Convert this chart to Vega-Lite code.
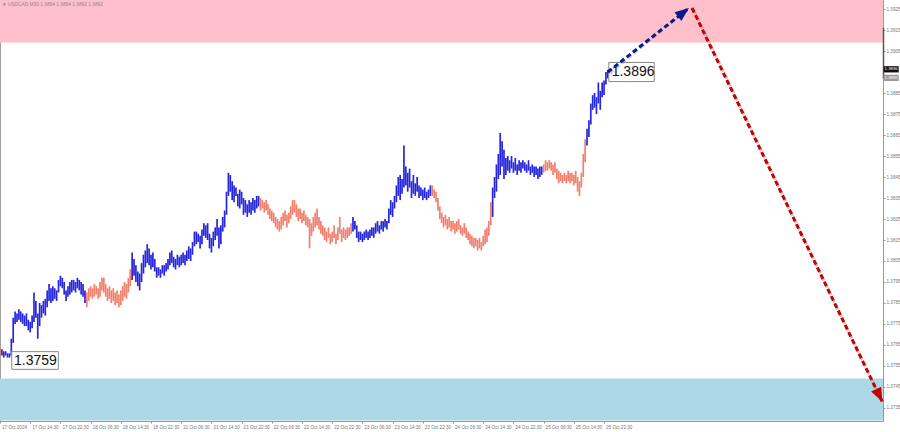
{
 "$schema": "https://vega.github.io/schema/vega-lite/v6.json",
 "width": 883, "height": 421, "padding": {"left": 0, "top": 0, "right": 17, "bottom": 11}, "autosize": {"type": "none"},
 "background": "white",
 "config": {"view": {"stroke": "#a0a0a0", "strokeWidth": 1}},
 "encoding": {
  "x": {"field": "i", "type": "quantitative", "title": null, "scale": {"domain": [0, 467.8], "nice": false, "zero": false},
    "axis": {"orient": "bottom", "title": null, "grid": false, "values": [0,16,32,48,64,80,96,112,128,144,160,176,192,208,224,240,256,272,288,304,320],
      "labelExpr": "['17 Oct 2024','17 Oct 14:30','17 Oct 22:30','18 Oct 06:30','18 Oct 14:30','18 Oct 22:30','21 Oct 06:30','21 Oct 14:30','21 Oct 22:30','22 Oct 06:30','22 Oct 14:30','22 Oct 22:30','23 Oct 06:30','23 Oct 14:30','23 Oct 22:30','24 Oct 06:30','24 Oct 14:30','24 Oct 22:30','25 Oct 06:30','25 Oct 14:30','25 Oct 22:30'][round(datum.value/16)]",
      "labelAlign": "left", "labelBaseline": "top", "labelFont": "Liberation Sans", "labelFontSize": 4.6, "labelColor": "#777", "labelPadding": 1, "labelOffset": 1.5, "labelFlush": false, "labelOverlap": false, "tickSize": 2, "tickColor": "#999", "domainColor": "#999"}},
  "y": {"field": "v", "type": "quantitative", "title": null, "scale": {"domain": [1.37288, 1.39293], "nice": false, "zero": false},
    "axis": {"orient": "right", "title": null, "grid": false, "values": [1.3735,1.3745,1.3755,1.3765,1.3775,1.3785,1.3795,1.3805,1.3815,1.3825,1.3835,1.3845,1.3855,1.3865,1.3875,1.3885,1.3905,1.3915,1.3925],
      "format": ".4f", "labelFont": "Liberation Sans", "labelFontSize": 4.6, "labelColor": "#777", "labelPadding": 1, "labelFlush": false, "labelOverlap": false, "labelBound": false, "tickSize": 2, "tickColor": "#999", "domainColor": "#999"}}
 },
 "layer": [
  {"data": {"values": [{"zone": "target", "i": 0, "i2": 467.8, "v": 1.3909, "v2": 1.3935}]},
   "mark": {"type": "rect", "color": "#ffc0cb", "clip": true},
   "encoding": {"x2": {"field": "i2"}, "y2": {"field": "v2"}}},
  {"data": {"values": [{"zone": "support", "i": 0, "i2": 467.8, "v": 1.3729, "v2": 1.3749}]},
   "mark": {"type": "rect", "color": "#add8e6", "clip": true},
   "encoding": {"x2": {"field": "i2"}, "y2": {"field": "v2"}}},
  {"data": {"values": [
{"i":0,"v":1.3760,"h":1.3763,"w":"dn"},{"i":1,"v":1.3760,"h":1.3763,"w":"up"},{"i":2,"v":1.3759,"h":1.3762,"w":"up"},{"i":3,"v":1.3760,"h":1.3762,"w":"up"},{"i":4,"v":1.3759,"h":1.3761,"w":"up"},{"i":5,"v":1.3759,"h":1.3761,"w":"up"},{"i":6,"v":1.3760,"h":1.3768,"w":"up"},{"i":7,"v":1.3766,"h":1.3778,"w":"up"},{"i":8,"v":1.3775,"h":1.3781,"w":"up"},{"i":9,"v":1.3776,"h":1.3780,"w":"up"},
{"i":10,"v":1.3777,"h":1.3782,"w":"up"},{"i":11,"v":1.3776,"h":1.3781,"w":"up"},{"i":12,"v":1.3775,"h":1.3780,"w":"up"},{"i":13,"v":1.3774,"h":1.3779,"w":"up"},{"i":14,"v":1.3774,"h":1.3780,"w":"up"},{"i":15,"v":1.3772,"h":1.3777,"w":"up"},{"i":16,"v":1.3771,"h":1.3776,"w":"up"},{"i":17,"v":1.3773,"h":1.3779,"w":"up"},{"i":18,"v":1.3776,"h":1.3790,"w":"up"},{"i":19,"v":1.3778,"h":1.3786,"w":"up"},
{"i":20,"v":1.3768,"h":1.3780,"w":"up"},{"i":21,"v":1.3774,"h":1.3785,"w":"up"},{"i":22,"v":1.3778,"h":1.3784,"w":"up"},{"i":23,"v":1.3780,"h":1.3786,"w":"up"},{"i":24,"v":1.3779,"h":1.3787,"w":"up"},{"i":25,"v":1.3783,"h":1.3791,"w":"up"},{"i":26,"v":1.3786,"h":1.3794,"w":"up"},{"i":27,"v":1.3785,"h":1.3792,"w":"up"},{"i":28,"v":1.3786,"h":1.3793,"w":"up"},{"i":29,"v":1.3787,"h":1.3792,"w":"up"},
{"i":30,"v":1.3786,"h":1.3791,"w":"up"},{"i":31,"v":1.3790,"h":1.3796,"w":"up"},{"i":32,"v":1.3793,"h":1.3798,"w":"up"},{"i":33,"v":1.3792,"h":1.3797,"w":"up"},{"i":34,"v":1.3789,"h":1.3795,"w":"up"},{"i":35,"v":1.3786,"h":1.3791,"w":"up"},{"i":36,"v":1.3788,"h":1.3793,"w":"up"},{"i":37,"v":1.3789,"h":1.3795,"w":"up"},{"i":38,"v":1.3790,"h":1.3796,"w":"up"},{"i":39,"v":1.3791,"h":1.3796,"w":"up"},
{"i":40,"v":1.3790,"h":1.3795,"w":"up"},{"i":41,"v":1.3792,"h":1.3797,"w":"up"},{"i":42,"v":1.3791,"h":1.3796,"w":"up"},{"i":43,"v":1.3789,"h":1.3795,"w":"up"},{"i":44,"v":1.3788,"h":1.3794,"w":"up"},{"i":45,"v":1.3785,"h":1.3791,"w":"up"},{"i":46,"v":1.3783,"h":1.3790,"w":"dn"},{"i":47,"v":1.3786,"h":1.3792,"w":"dn"},{"i":48,"v":1.3788,"h":1.3793,"w":"dn"},{"i":49,"v":1.3787,"h":1.3792,"w":"dn"},
{"i":50,"v":1.3788,"h":1.3794,"w":"dn"},{"i":51,"v":1.3789,"h":1.3793,"w":"dn"},{"i":52,"v":1.3787,"h":1.3792,"w":"dn"},{"i":53,"v":1.3788,"h":1.3795,"w":"dn"},{"i":54,"v":1.3791,"h":1.3797,"w":"dn"},{"i":55,"v":1.3790,"h":1.3797,"w":"dn"},{"i":56,"v":1.3788,"h":1.3794,"w":"dn"},{"i":57,"v":1.3786,"h":1.3792,"w":"dn"},{"i":58,"v":1.3787,"h":1.3793,"w":"dn"},{"i":59,"v":1.3785,"h":1.3791,"w":"dn"},
{"i":60,"v":1.3786,"h":1.3792,"w":"dn"},{"i":61,"v":1.3784,"h":1.3790,"w":"dn"},{"i":62,"v":1.3785,"h":1.3791,"w":"dn"},{"i":63,"v":1.3783,"h":1.3789,"w":"dn"},{"i":64,"v":1.3784,"h":1.3791,"w":"dn"},{"i":65,"v":1.3786,"h":1.3793,"w":"dn"},{"i":66,"v":1.3788,"h":1.3795,"w":"dn"},{"i":67,"v":1.3787,"h":1.3794,"w":"dn"},{"i":68,"v":1.3790,"h":1.3797,"w":"dn"},{"i":69,"v":1.3793,"h":1.3801,"w":"dn"},
{"i":70,"v":1.3796,"h":1.3809,"w":"up"},{"i":71,"v":1.3798,"h":1.3806,"w":"up"},{"i":72,"v":1.3795,"h":1.3803,"w":"up"},{"i":73,"v":1.3793,"h":1.3800,"w":"up"},{"i":74,"v":1.3791,"h":1.3799,"w":"up"},{"i":75,"v":1.3795,"h":1.3804,"w":"up"},{"i":76,"v":1.3799,"h":1.3808,"w":"up"},{"i":77,"v":1.3802,"h":1.3810,"w":"up"},{"i":78,"v":1.3804,"h":1.3813,"w":"up"},{"i":79,"v":1.3803,"h":1.3811,"w":"up"},
{"i":80,"v":1.3801,"h":1.3808,"w":"up"},{"i":81,"v":1.3802,"h":1.3809,"w":"up"},{"i":82,"v":1.3800,"h":1.3806,"w":"up"},{"i":83,"v":1.3797,"h":1.3802,"w":"up"},{"i":84,"v":1.3798,"h":1.3802,"w":"up"},{"i":85,"v":1.3797,"h":1.3801,"w":"up"},{"i":86,"v":1.3799,"h":1.3803,"w":"up"},{"i":87,"v":1.3798,"h":1.3803,"w":"up"},{"i":88,"v":1.3800,"h":1.3804,"w":"up"},{"i":89,"v":1.3801,"h":1.3806,"w":"up"},
{"i":90,"v":1.3803,"h":1.3809,"w":"up"},{"i":91,"v":1.3804,"h":1.3810,"w":"up"},{"i":92,"v":1.3802,"h":1.3807,"w":"up"},{"i":93,"v":1.3801,"h":1.3806,"w":"up"},{"i":94,"v":1.3803,"h":1.3808,"w":"up"},{"i":95,"v":1.3802,"h":1.3807,"w":"up"},{"i":96,"v":1.3803,"h":1.3808,"w":"up"},{"i":97,"v":1.3804,"h":1.3809,"w":"up"},{"i":98,"v":1.3803,"h":1.3808,"w":"up"},{"i":99,"v":1.3805,"h":1.3810,"w":"up"},
{"i":100,"v":1.3806,"h":1.3812,"w":"up"},{"i":101,"v":1.3805,"h":1.3811,"w":"up"},{"i":102,"v":1.3808,"h":1.3814,"w":"up"},{"i":103,"v":1.3812,"h":1.3819,"w":"up"},{"i":104,"v":1.3813,"h":1.3819,"w":"up"},{"i":105,"v":1.3814,"h":1.3818,"w":"up"},{"i":106,"v":1.3811,"h":1.3817,"w":"up"},{"i":107,"v":1.3813,"h":1.3820,"w":"up"},{"i":108,"v":1.3817,"h":1.3823,"w":"up"},{"i":109,"v":1.3816,"h":1.3822,"w":"up"},
{"i":110,"v":1.3815,"h":1.3823,"w":"up"},{"i":111,"v":1.3811,"h":1.3818,"w":"up"},{"i":112,"v":1.3809,"h":1.3816,"w":"up"},{"i":113,"v":1.3812,"h":1.3819,"w":"up"},{"i":114,"v":1.3815,"h":1.3821,"w":"up"},{"i":115,"v":1.3817,"h":1.3825,"w":"up"},{"i":116,"v":1.3811,"h":1.3821,"w":"up"},{"i":117,"v":1.3813,"h":1.3822,"w":"up"},{"i":118,"v":1.3819,"h":1.3826,"w":"up"},{"i":119,"v":1.3821,"h":1.3829,"w":"up"},
{"i":120,"v":1.3827,"h":1.3838,"w":"up"},{"i":121,"v":1.3836,"h":1.3847,"w":"up"},{"i":122,"v":1.3838,"h":1.3846,"w":"up"},{"i":123,"v":1.3834,"h":1.3843,"w":"up"},{"i":124,"v":1.3833,"h":1.3841,"w":"up"},{"i":125,"v":1.3836,"h":1.3840,"w":"up"},{"i":126,"v":1.3831,"h":1.3837,"w":"up"},{"i":127,"v":1.3830,"h":1.3839,"w":"up"},{"i":128,"v":1.3832,"h":1.3838,"w":"up"},{"i":129,"v":1.3827,"h":1.3835,"w":"up"},
{"i":130,"v":1.3828,"h":1.3834,"w":"up"},{"i":131,"v":1.3826,"h":1.3832,"w":"up"},{"i":132,"v":1.3828,"h":1.3834,"w":"up"},{"i":133,"v":1.3827,"h":1.3833,"w":"up"},{"i":134,"v":1.3829,"h":1.3835,"w":"up"},{"i":135,"v":1.3828,"h":1.3834,"w":"up"},{"i":136,"v":1.3830,"h":1.3836,"w":"up"},{"i":137,"v":1.3831,"h":1.3836,"w":"up"},{"i":138,"v":1.3829,"h":1.3835,"w":"dn"},{"i":139,"v":1.3830,"h":1.3834,"w":"dn"},
{"i":140,"v":1.3828,"h":1.3833,"w":"dn"},{"i":141,"v":1.3829,"h":1.3834,"w":"dn"},{"i":142,"v":1.3827,"h":1.3832,"w":"dn"},{"i":143,"v":1.3825,"h":1.3830,"w":"dn"},{"i":144,"v":1.3824,"h":1.3829,"w":"dn"},{"i":145,"v":1.3823,"h":1.3828,"w":"dn"},{"i":146,"v":1.3821,"h":1.3826,"w":"dn"},{"i":147,"v":1.3820,"h":1.3825,"w":"dn"},{"i":148,"v":1.3819,"h":1.3824,"w":"dn"},{"i":149,"v":1.3820,"h":1.3826,"w":"dn"},
{"i":150,"v":1.3822,"h":1.3828,"w":"dn"},{"i":151,"v":1.3824,"h":1.3829,"w":"dn"},{"i":152,"v":1.3821,"h":1.3827,"w":"dn"},{"i":153,"v":1.3823,"h":1.3828,"w":"dn"},{"i":154,"v":1.3825,"h":1.3831,"w":"dn"},{"i":155,"v":1.3827,"h":1.3834,"w":"dn"},{"i":156,"v":1.3828,"h":1.3834,"w":"dn"},{"i":157,"v":1.3826,"h":1.3832,"w":"dn"},{"i":158,"v":1.3824,"h":1.3830,"w":"dn"},{"i":159,"v":1.3825,"h":1.3830,"w":"dn"},
{"i":160,"v":1.3823,"h":1.3828,"w":"dn"},{"i":161,"v":1.3824,"h":1.3829,"w":"dn"},{"i":162,"v":1.3822,"h":1.3827,"w":"dn"},{"i":163,"v":1.3821,"h":1.3826,"w":"dn"},{"i":164,"v":1.3811,"h":1.3825,"w":"dn"},{"i":165,"v":1.3817,"h":1.3823,"w":"dn"},{"i":166,"v":1.3819,"h":1.3826,"w":"dn"},{"i":167,"v":1.3821,"h":1.3828,"w":"dn"},{"i":168,"v":1.3822,"h":1.3830,"w":"dn"},{"i":169,"v":1.3820,"h":1.3826,"w":"dn"},
{"i":170,"v":1.3818,"h":1.3824,"w":"dn"},{"i":171,"v":1.3817,"h":1.3822,"w":"dn"},{"i":172,"v":1.3815,"h":1.3821,"w":"dn"},{"i":173,"v":1.3814,"h":1.3819,"w":"dn"},{"i":174,"v":1.3816,"h":1.3821,"w":"dn"},{"i":175,"v":1.3813,"h":1.3818,"w":"dn"},{"i":176,"v":1.3814,"h":1.3819,"w":"dn"},{"i":177,"v":1.3816,"h":1.3822,"w":"dn"},{"i":178,"v":1.3813,"h":1.3818,"w":"dn"},{"i":179,"v":1.3815,"h":1.3821,"w":"dn"},
{"i":180,"v":1.3818,"h":1.3826,"w":"dn"},{"i":181,"v":1.3814,"h":1.3820,"w":"dn"},{"i":182,"v":1.3816,"h":1.3821,"w":"dn"},{"i":183,"v":1.3815,"h":1.3820,"w":"dn"},{"i":184,"v":1.3816,"h":1.3821,"w":"dn"},{"i":185,"v":1.3817,"h":1.3821,"w":"dn"},{"i":186,"v":1.3818,"h":1.3823,"w":"dn"},{"i":187,"v":1.3819,"h":1.3826,"w":"up"},{"i":188,"v":1.3820,"h":1.3824,"w":"up"},{"i":189,"v":1.3816,"h":1.3822,"w":"up"},
{"i":190,"v":1.3814,"h":1.3819,"w":"up"},{"i":191,"v":1.3815,"h":1.3819,"w":"up"},{"i":192,"v":1.3814,"h":1.3818,"w":"up"},{"i":193,"v":1.3815,"h":1.3819,"w":"up"},{"i":194,"v":1.3816,"h":1.3820,"w":"up"},{"i":195,"v":1.3815,"h":1.3819,"w":"up"},{"i":196,"v":1.3816,"h":1.3820,"w":"up"},{"i":197,"v":1.3817,"h":1.3821,"w":"up"},{"i":198,"v":1.3816,"h":1.3821,"w":"up"},{"i":199,"v":1.3818,"h":1.3823,"w":"up"},
{"i":200,"v":1.3819,"h":1.3824,"w":"up"},{"i":201,"v":1.3818,"h":1.3822,"w":"up"},{"i":202,"v":1.3820,"h":1.3824,"w":"up"},{"i":203,"v":1.3819,"h":1.3824,"w":"up"},{"i":204,"v":1.3821,"h":1.3825,"w":"up"},{"i":205,"v":1.3820,"h":1.3824,"w":"up"},{"i":206,"v":1.3823,"h":1.3830,"w":"up"},{"i":207,"v":1.3827,"h":1.3834,"w":"up"},{"i":208,"v":1.3826,"h":1.3833,"w":"up"},{"i":209,"v":1.3830,"h":1.3836,"w":"up"},
{"i":210,"v":1.3833,"h":1.3841,"w":"up"},{"i":211,"v":1.3836,"h":1.3845,"w":"up"},{"i":212,"v":1.3834,"h":1.3846,"w":"up"},{"i":213,"v":1.3837,"h":1.3844,"w":"up"},{"i":214,"v":1.3840,"h":1.3860,"w":"up"},{"i":215,"v":1.3841,"h":1.3850,"w":"up"},{"i":216,"v":1.3838,"h":1.3847,"w":"up"},{"i":217,"v":1.3840,"h":1.3849,"w":"up"},{"i":218,"v":1.3835,"h":1.3843,"w":"up"},{"i":219,"v":1.3837,"h":1.3846,"w":"up"},
{"i":220,"v":1.3836,"h":1.3842,"w":"up"},{"i":221,"v":1.3838,"h":1.3845,"w":"up"},{"i":222,"v":1.3835,"h":1.3841,"w":"up"},{"i":223,"v":1.3836,"h":1.3840,"w":"up"},{"i":224,"v":1.3834,"h":1.3839,"w":"up"},{"i":225,"v":1.3835,"h":1.3840,"w":"up"},{"i":226,"v":1.3834,"h":1.3838,"w":"up"},{"i":227,"v":1.3835,"h":1.3839,"w":"up"},{"i":228,"v":1.3836,"h":1.3841,"w":"up"},{"i":229,"v":1.3836,"h":1.3841,"w":"dn"},
{"i":230,"v":1.3835,"h":1.3839,"w":"dn"},{"i":231,"v":1.3833,"h":1.3838,"w":"dn"},{"i":232,"v":1.3829,"h":1.3835,"w":"dn"},{"i":233,"v":1.3825,"h":1.3831,"w":"dn"},{"i":234,"v":1.3823,"h":1.3828,"w":"dn"},{"i":235,"v":1.3821,"h":1.3826,"w":"dn"},{"i":236,"v":1.3822,"h":1.3827,"w":"dn"},{"i":237,"v":1.3820,"h":1.3825,"w":"dn"},{"i":238,"v":1.3821,"h":1.3826,"w":"dn"},{"i":239,"v":1.3819,"h":1.3824,"w":"dn"},
{"i":240,"v":1.3820,"h":1.3824,"w":"dn"},{"i":241,"v":1.3818,"h":1.3823,"w":"dn"},{"i":242,"v":1.3819,"h":1.3824,"w":"dn"},{"i":243,"v":1.3820,"h":1.3825,"w":"dn"},{"i":244,"v":1.3818,"h":1.3822,"w":"dn"},{"i":245,"v":1.3817,"h":1.3821,"w":"dn"},{"i":246,"v":1.3818,"h":1.3823,"w":"dn"},{"i":247,"v":1.3816,"h":1.3821,"w":"dn"},{"i":248,"v":1.3815,"h":1.3819,"w":"dn"},{"i":249,"v":1.3813,"h":1.3818,"w":"dn"},
{"i":250,"v":1.3812,"h":1.3817,"w":"dn"},{"i":251,"v":1.3811,"h":1.3816,"w":"dn"},{"i":252,"v":1.3812,"h":1.3816,"w":"dn"},{"i":253,"v":1.3810,"h":1.3815,"w":"dn"},{"i":254,"v":1.3811,"h":1.3816,"w":"dn"},{"i":255,"v":1.3810,"h":1.3814,"w":"dn"},{"i":256,"v":1.3812,"h":1.3817,"w":"dn"},{"i":257,"v":1.3813,"h":1.3820,"w":"dn"},{"i":258,"v":1.3814,"h":1.3821,"w":"dn"},{"i":259,"v":1.3817,"h":1.3824,"w":"dn"},
{"i":260,"v":1.3822,"h":1.3833,"w":"dn"},{"i":261,"v":1.3826,"h":1.3840,"w":"up"},{"i":262,"v":1.3835,"h":1.3845,"w":"up"},{"i":263,"v":1.3838,"h":1.3851,"w":"up"},{"i":264,"v":1.3844,"h":1.3856,"w":"up"},{"i":265,"v":1.3846,"h":1.3866,"w":"up"},{"i":266,"v":1.3850,"h":1.3862,"w":"up"},{"i":267,"v":1.3844,"h":1.3858,"w":"up"},{"i":268,"v":1.3846,"h":1.3854,"w":"up"},{"i":269,"v":1.3848,"h":1.3855,"w":"up"},
{"i":270,"v":1.3847,"h":1.3853,"w":"up"},{"i":271,"v":1.3849,"h":1.3855,"w":"up"},{"i":272,"v":1.3847,"h":1.3852,"w":"up"},{"i":273,"v":1.3848,"h":1.3854,"w":"up"},{"i":274,"v":1.3846,"h":1.3851,"w":"up"},{"i":275,"v":1.3848,"h":1.3853,"w":"up"},{"i":276,"v":1.3847,"h":1.3852,"w":"up"},{"i":277,"v":1.3849,"h":1.3853,"w":"up"},{"i":278,"v":1.3848,"h":1.3852,"w":"up"},{"i":279,"v":1.3847,"h":1.3851,"w":"up"},
{"i":280,"v":1.3848,"h":1.3853,"w":"up"},{"i":281,"v":1.3846,"h":1.3850,"w":"up"},{"i":282,"v":1.3847,"h":1.3851,"w":"up"},{"i":283,"v":1.3845,"h":1.3850,"w":"up"},{"i":284,"v":1.3846,"h":1.3850,"w":"up"},{"i":285,"v":1.3844,"h":1.3849,"w":"up"},{"i":286,"v":1.3845,"h":1.3850,"w":"up"},{"i":287,"v":1.3846,"h":1.3850,"w":"up"},{"i":288,"v":1.3847,"h":1.3851,"w":"dn"},{"i":289,"v":1.3848,"h":1.3853,"w":"dn"},
{"i":290,"v":1.3848,"h":1.3852,"w":"dn"},{"i":291,"v":1.3849,"h":1.3853,"w":"dn"},{"i":292,"v":1.3848,"h":1.3852,"w":"dn"},{"i":293,"v":1.3846,"h":1.3851,"w":"dn"},{"i":294,"v":1.3847,"h":1.3852,"w":"dn"},{"i":295,"v":1.3844,"h":1.3849,"w":"dn"},{"i":296,"v":1.3842,"h":1.3848,"w":"dn"},{"i":297,"v":1.3843,"h":1.3847,"w":"dn"},{"i":298,"v":1.3842,"h":1.3846,"w":"dn"},{"i":299,"v":1.3843,"h":1.3847,"w":"dn"},
{"i":300,"v":1.3842,"h":1.3846,"w":"dn"},{"i":301,"v":1.3843,"h":1.3848,"w":"dn"},{"i":302,"v":1.3842,"h":1.3847,"w":"dn"},{"i":303,"v":1.3843,"h":1.3847,"w":"dn"},{"i":304,"v":1.3841,"h":1.3846,"w":"dn"},{"i":305,"v":1.3842,"h":1.3848,"w":"dn"},{"i":306,"v":1.3838,"h":1.3845,"w":"dn"},{"i":307,"v":1.3836,"h":1.3843,"w":"dn"},{"i":308,"v":1.3840,"h":1.3847,"w":"dn"},{"i":309,"v":1.3845,"h":1.3856,"w":"dn"},
{"i":310,"v":1.3852,"h":1.3863,"w":"dn"},{"i":311,"v":1.3860,"h":1.3868,"w":"up"},{"i":312,"v":1.3864,"h":1.3872,"w":"up"},{"i":313,"v":1.3870,"h":1.3880,"w":"up"},{"i":314,"v":1.3877,"h":1.3884,"w":"up"},{"i":315,"v":1.3878,"h":1.3885,"w":"up"},{"i":316,"v":1.3875,"h":1.3883,"w":"up"},{"i":317,"v":1.3880,"h":1.3890,"w":"up"},{"i":318,"v":1.3877,"h":1.3886,"w":"up"},{"i":319,"v":1.3883,"h":1.3890,"w":"up"},
{"i":320,"v":1.3884,"h":1.3891,"w":"up"},{"i":321,"v":1.3889,"h":1.3895,"w":"up"},{"i":322,"v":1.3892,"h":1.3896,"w":"up"}
  ]},
   "mark": {"type": "rule", "strokeWidth": 1.7},
   "encoding": {
    "y2": {"field": "h"},
    "color": {"field": "w", "type": "nominal", "scale": {"domain": ["up", "dn"], "range": ["#2626dc", "#f27f6c"]}, "legend": null}
   }},
  {"data": {"values": [{"i": 5, "v": 1.3759}]},
   "mark": {"type": "point", "shape": "M-1,-0.38L1,-0.38L1,0.38L-1,0.38Z", "size": 2172, "filled": true, "fill": "white", "stroke": "#888", "strokeWidth": 1, "opacity": 1, "xOffset": 25.6, "yOffset": 2.9},
   "encoding": {}},
  {"data": {"values": [{"i": 5, "v": 1.3759, "t": "1.3759"}]},
   "mark": {"type": "text", "align": "left", "baseline": "middle", "font": "Liberation Sans", "fontSize": 14, "color": "#111", "dx": 4.6, "dy": 3.1},
   "encoding": {"text": {"field": "t"}}},
  {"data": {"values": [{"i": 322, "v": 1.3896}]},
   "mark": {"type": "point", "shape": "M-1,-0.42L1,-0.42L1,0.42L-1,0.42Z", "size": 2070, "filled": true, "fill": "white", "stroke": "#888", "strokeWidth": 1, "opacity": 1, "xOffset": 23.7, "yOffset": 2.1},
   "encoding": {}},
  {"data": {"values": [{"i": 322, "v": 1.3896, "t": "1.3896"}]},
   "mark": {"type": "text", "align": "left", "baseline": "middle", "font": "Liberation Sans", "fontSize": 14, "color": "#111", "dx": 3.9, "dy": 2.3},
   "encoding": {"text": {"field": "t"}}},
  {"data": {"values": [{"i": 322, "v": 1.3895, "i2": 365, "v2": 1.39255}, {"i": 366.6, "v": 1.39255, "i2": 467.4, "v2": 1.3738}]},
   "mark": {"type": "rule", "strokeWidth": 3, "strokeDash": [5, 3], "color": "#888", "opacity": 0.45, "xOffset": 1.5, "yOffset": 1.5},
   "encoding": {"x2": {"field": "i2"}, "y2": {"field": "v2"}}},
  {"data": {"values": [{"i": 322, "v": 1.3895, "i2": 365, "v2": 1.39255}]},
   "mark": {"type": "rule", "strokeWidth": 3, "strokeDash": [5, 3], "color": "#0d1a8c"},
   "encoding": {"x2": {"field": "i2"}, "y2": {"field": "v2"}}},
  {"data": {"values": [{"i": 366.6, "v": 1.39255, "i2": 467.4, "v2": 1.3738}]},
   "mark": {"type": "rule", "strokeWidth": 3, "strokeDash": [5, 3], "color": "#c80000"},
   "encoding": {"x2": {"field": "i2"}, "y2": {"field": "v2"}}},
  {"data": {"values": [{"i": 365, "v": 1.39255}]},
   "mark": {"type": "point", "shape": "M0,-1L0.8,1L-0.8,1Z", "size": 196, "filled": true, "color": "#0d1a8c", "opacity": 1, "angle": 52, "xOffset": -5.5, "yOffset": 4.3},
   "encoding": {}},
  {"data": {"values": [{"i": 467.4, "v": 1.3738}]},
   "mark": {"type": "point", "shape": "M0,-1L0.8,1L-0.8,1Z", "size": 196, "filled": true, "color": "#c80000", "opacity": 1, "angle": 154, "xOffset": -3.0, "yOffset": -6.3},
   "encoding": {}},
  {"data": {"values": [{"i": 1, "v": 1.3927, "t": "▼ USDCAD,M30  1.3894 1.3894 1.3892 1.3892"}]},
   "mark": {"type": "text", "align": "left", "baseline": "middle", "font": "Liberation Sans", "fontSize": 4.8, "color": "#888"},
   "encoding": {"text": {"field": "t"}}},
  {"data": {"values": [{"i": 467.8, "v": 1.3916, "v2": 1.3892}]},
   "mark": {"type": "rule", "strokeWidth": 1.5, "color": "#555", "xOffset": 0.5},
   "encoding": {"y2": {"field": "v2"}}},
  {"data": {"values": [{"i": 467.8, "v": 1.38963}]},
   "mark": {"type": "point", "shape": "M-1,-0.42L1,-0.42L1,0.42L-1,0.42Z", "size": 225, "filled": true, "color": "#111", "opacity": 1, "xOffset": 8.2},
   "encoding": {}},
  {"data": {"values": [{"i": 467.8, "v": 1.38922}]},
   "mark": {"type": "point", "shape": "M-1,-0.42L1,-0.42L1,0.42L-1,0.42Z", "size": 225, "filled": true, "color": "#9a9a9a", "opacity": 1, "xOffset": 8.2},
   "encoding": {}},
  {"data": {"values": [{"i": 467.8, "v": 1.38963, "t": "1.3896"}, {"i": 467.8, "v": 1.38922, "t": "1.3892"}]},
   "mark": {"type": "text", "align": "center", "baseline": "middle", "font": "Liberation Sans", "fontSize": 4.3, "color": "white", "dx": 8.2},
   "encoding": {"text": {"field": "t"}}}
 ]
}
